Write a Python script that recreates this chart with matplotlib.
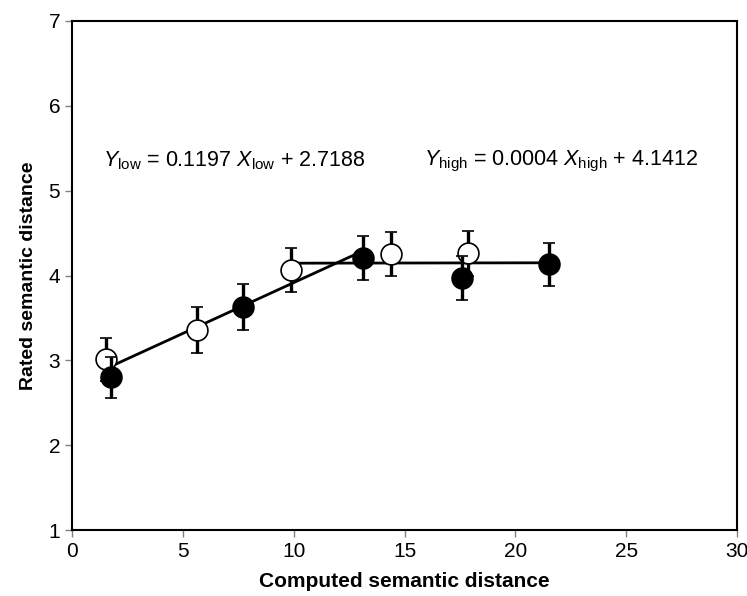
import matplotlib
matplotlib.use("Agg")
import matplotlib.pyplot as plt
import numpy as np

plt.rcParams['font.family'] = ['Liberation Sans', 'DejaVu Sans']
plt.rcParams['mathtext.fontset'] = 'custom'
plt.rcParams['mathtext.rm'] = 'Liberation Sans'
plt.rcParams['mathtext.it'] = 'Liberation Sans:italic'

# === data ===
x_open = [1.52, 5.64, 9.88, 14.40, 17.85]
y_open = [3.01, 3.36, 4.06, 4.25, 4.26]
err_open = [0.25, 0.27, 0.26, 0.26, 0.26]

x_filled = [1.75, 7.72, 13.15, 17.58, 21.50]
y_filled = [2.80, 3.63, 4.21, 3.97, 4.13]
err_filled = [0.24, 0.27, 0.26, 0.26, 0.25]

low_slope, low_icpt = 0.1197, 2.7188
high_slope, high_icpt = 0.0004, 4.1412
low_range = [1.6, 12.8]
high_range = [9.88, 21.5]

fig = plt.figure(figsize=(7.47, 5.96), dpi=100)
ax = fig.add_axes([0.0964, 0.1107, 0.8902, 0.8541])

# fitted lines
xl = np.array(low_range)
ax.plot(xl, low_slope * xl + low_icpt, color='black', lw=2.0, zorder=2)
xh = np.array(high_range)
ax.plot(xh, high_slope * xh + high_icpt, color='black', lw=2.0, zorder=2)

# points with error bars
ax.errorbar(x_open, y_open, yerr=err_open, fmt='o', ms=15, mfc='white', mec='black',
            mew=1.2, ecolor='black', elinewidth=2.4, capsize=4, capthick=2.4, zorder=3)
ax.errorbar(x_filled, y_filled, yerr=err_filled, fmt='o', ms=15, mfc='black', mec='black',
            mew=1.2, ecolor='black', elinewidth=2.4, capsize=4, capthick=2.4, zorder=4)

ax.text(1.4, 5.35, r'$\it{Y}_{\rm low}$ = 0.1197 $\it{X}_{\rm low}$ + 2.7188',
        fontsize=15.5, ha='left', va='center')
ax.text(15.9, 5.35, r'$\it{Y}_{\rm high}$ = 0.0004 $\it{X}_{\rm high}$ + 4.1412',
        fontsize=15.5, ha='left', va='center')

ax.set_xlim(0, 30)
ax.set_ylim(1, 7)
ax.set_xticks(range(0, 31, 5))
ax.set_yticks(range(1, 8))
ax.tick_params(axis='both', labelsize=15, length=5, width=1, color='gray', direction='out')
for s in ax.spines.values():
    s.set_linewidth(1.5)

ax.set_xlabel('Computed semantic distance', fontsize=15, fontweight='bold', labelpad=8)
ax.set_ylabel('Rated semantic distance', fontsize=14, fontweight='bold', labelpad=8)

fig.savefig('out.png', dpi=100)
